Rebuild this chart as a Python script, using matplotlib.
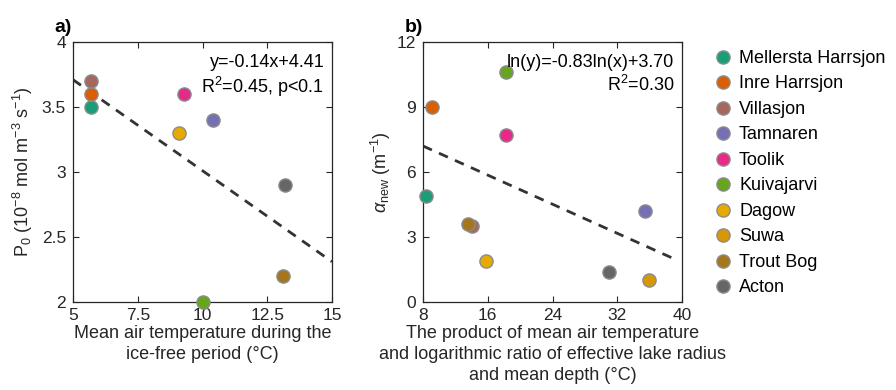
import numpy as np
import matplotlib
matplotlib.use("Agg")
import matplotlib.pyplot as plt
from matplotlib.lines import Line2D

plt.rcParams['font.family'] = ['Liberation Sans', 'DejaVu Sans']
plt.rcParams['mathtext.fontset'] = 'custom'
plt.rcParams['mathtext.rm'] = 'Liberation Sans'
plt.rcParams['mathtext.it'] = 'Liberation Sans:italic'

lakes = ["Mellersta Harrsjon", "Inre Harrsjon", "Villasjon", "Tamnaren", "Toolik",
         "Kuivajarvi", "Dagow", "Suwa", "Trout Bog", "Acton"]
colors = ["#1B9E77", "#D95F02", "#A6675C", "#7570B3", "#E7298A",
          "#66A61E", "#E6AB02", "#D4980A", "#A6761D", "#666666"]

# Panel a
temp_a = [5.7, 5.7, 5.7, 10.4, 9.3, 10.0, 9.1, np.nan, 13.1, 13.2]
p0_a = [3.5, 3.6, 3.7, 3.4, 3.6, 2.0, 3.3, np.nan, 2.2, 2.9]
fit_a = (-0.14, 4.41)

# Panel b
prod_b = [8.4, 9.1, 14.1, 35.4, 18.3, 18.3, 15.8, 35.9, 13.5, 31.0]
alpha_b = [4.9, 9.0, 3.5, 4.2, 7.7, 10.6, 1.9, 1.0, 3.6, 1.4]
fit_b = (-0.83, 3.70)
fit_b_range = (8, 39.5)

txt = "#262626"
fig = plt.figure(figsize=(8.96, 3.9), dpi=100)
axa = fig.add_axes([73/896, 88/390, 259/896, 260/390])
axb = fig.add_axes([423/896, 88/390, 259/896, 260/390])

ms = 9.5
edge = "#8c8c8c"
fs = 13

def style(ax):
    for s in ax.spines.values():
        s.set_color(txt)
        s.set_linewidth(0.9)
    ax.tick_params(direction='in', top=True, right=True, length=4, width=0.8,
                   colors=txt, labelsize=12.5)
    ax.tick_params(axis='x', pad=4)
    ax.tick_params(axis='y', pad=5)

# Panel a
xa = np.array([5.0, 15.0])
axa.plot(xa, fit_a[0]*xa + fit_a[1], ls=(0, (3.5, 2.8)), color="#333333", lw=2, zorder=2)
for i in range(len(lakes)):
    axa.plot(temp_a[i], p0_a[i], 'o', ms=ms, mfc=colors[i], mec=edge, mew=1, zorder=3, clip_on=False)
axa.set_xlim(5, 15)
axa.set_ylim(2, 4)
axa.set_xticks([5, 7.5, 10, 12.5, 15])
axa.set_xticklabels(["5", "7.5", "10", "12.5", "15"])
axa.set_yticks([2, 2.5, 3, 3.5, 4])
axa.set_yticklabels(["2", "2.5", "3", "3.5", "4"])
style(axa)
axa.set_xlabel("Mean air temperature during the\nice-free period (°C)", fontsize=fs, color=txt,
               labelpad=2, linespacing=1.3)
axa.set_ylabel(r"P$_0$ (10$^{-8}$ mol m$^{-3}$ s$^{-1}$)", fontsize=fs, color=txt, labelpad=5)
axa.text(0.97, 0.955, "y=-0.14x+4.41\n" + r"R$^2$=0.45, p<0.1", transform=axa.transAxes,
         ha='right', va='top', fontsize=fs, color='black', linespacing=1.25)
axa.text(-0.07, 1.025, "a)", transform=axa.transAxes, fontsize=14, fontweight='bold', va='bottom', ha='left')

# Panel b (fitted relation drawn as a straight segment between its end values, as in the original)
xb = np.array(fit_b_range)
axb.plot(xb, np.exp(fit_b[1]) * xb**fit_b[0], ls=(0, (3.5, 2.8)), color="#333333", lw=2, zorder=2)
for i in range(len(lakes)):
    axb.plot(prod_b[i], alpha_b[i], 'o', ms=ms, mfc=colors[i], mec=edge, mew=1, zorder=3, clip_on=False)
axb.set_xlim(8, 40)
axb.set_ylim(0, 12)
axb.set_xticks([8, 16, 24, 32, 40])
axb.set_yticks([0, 3, 6, 9, 12])
style(axb)
axb.set_xlabel("The product of mean air temperature\nand logarithmic ratio of effective lake radius\nand mean depth (°C)",
               fontsize=fs, color=txt, labelpad=2, linespacing=1.3)
axb.set_ylabel(r"$\alpha_{\rm new}$ (m$^{-1}$)", fontsize=fs, color=txt, labelpad=3)
axb.text(0.97, 0.955, "ln(y)=-0.83ln(x)+3.70\n" + r"R$^2$=0.30", transform=axb.transAxes,
         ha='right', va='top', fontsize=fs, color='black', linespacing=1.25)
axb.text(-0.07, 1.025, "b)", transform=axb.transAxes, fontsize=14, fontweight='bold', va='bottom', ha='left')

handles = [Line2D([], [], ls='none', marker='o', ms=ms, mfc=c, mec=edge, mew=1) for c in colors]
fig.legend(handles, lakes, loc='upper left', bbox_to_anchor=(712/896, 1 - 50/390),
           frameon=False, fontsize=fs, handletextpad=0.3, labelspacing=0.47,
           handlelength=1.2, borderaxespad=0, borderpad=0)

fig.savefig("out.png", dpi=100)
